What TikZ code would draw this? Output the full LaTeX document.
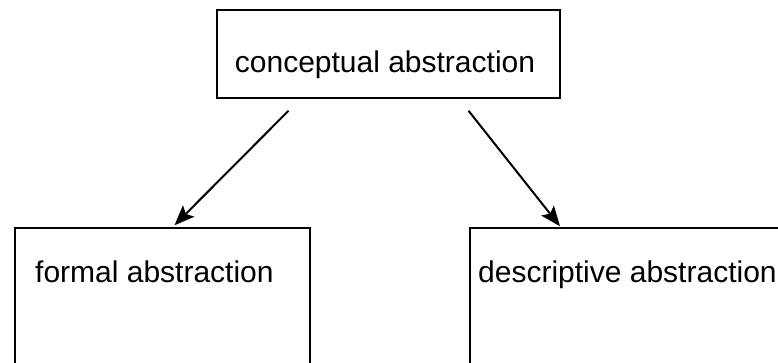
\documentclass[tikz,border=0pt]{standalone}
\usepackage{fontspec}
\setmainfont{Liberation Sans}
\usetikzlibrary{arrows.meta}
\begin{document}
\begin{tikzpicture}[x=1pt,y=-1pt,
		box/.style={draw,line width=1.5pt,inner sep=0pt},
		lbl/.style={inner sep=0pt,font=\fontsize{30}{36}\selectfont},
		arr/.style={line width=2pt,-{Stealth[length=20pt,width=16pt,inset=4pt]}}]
				\useasboundingbox (0,0) rectangle (778,362);
				\clip (0,0) rectangle (778,362);
				\node[box,minimum width=343pt,minimum height=88pt] (concept) at (388.5,54) {};
				\node[lbl,anchor=base] (tconcept) at (385,72) {conceptual abstraction};
				\node[box,minimum width=295pt,minimum height=160pt] (formal) at (162.5,308) {};
				\node[lbl,anchor=base west] (tformal) at (35,282) {formal abstraction};
				\node[box,minimum width=320pt,minimum height=160pt] (descr) at (630,308) {};
				\node[lbl,anchor=base west] (tdescr) at (478,282) {descriptive abstraction};
				\coordinate (s1) at ([xshift=-100pt,yshift=-12pt]concept.south);
				\coordinate (s2) at ([xshift=80pt,yshift=-12pt]concept.south);
				\coordinate (e1) at ([xshift=12pt,yshift=2pt]formal.north);
				\coordinate (e2) at ([xshift=-70pt,yshift=1pt]descr.north);
				\draw[arr] (s1) -- (e1);
				\draw[arr] (s2) -- (e2);
\end{tikzpicture}
\end{document}
